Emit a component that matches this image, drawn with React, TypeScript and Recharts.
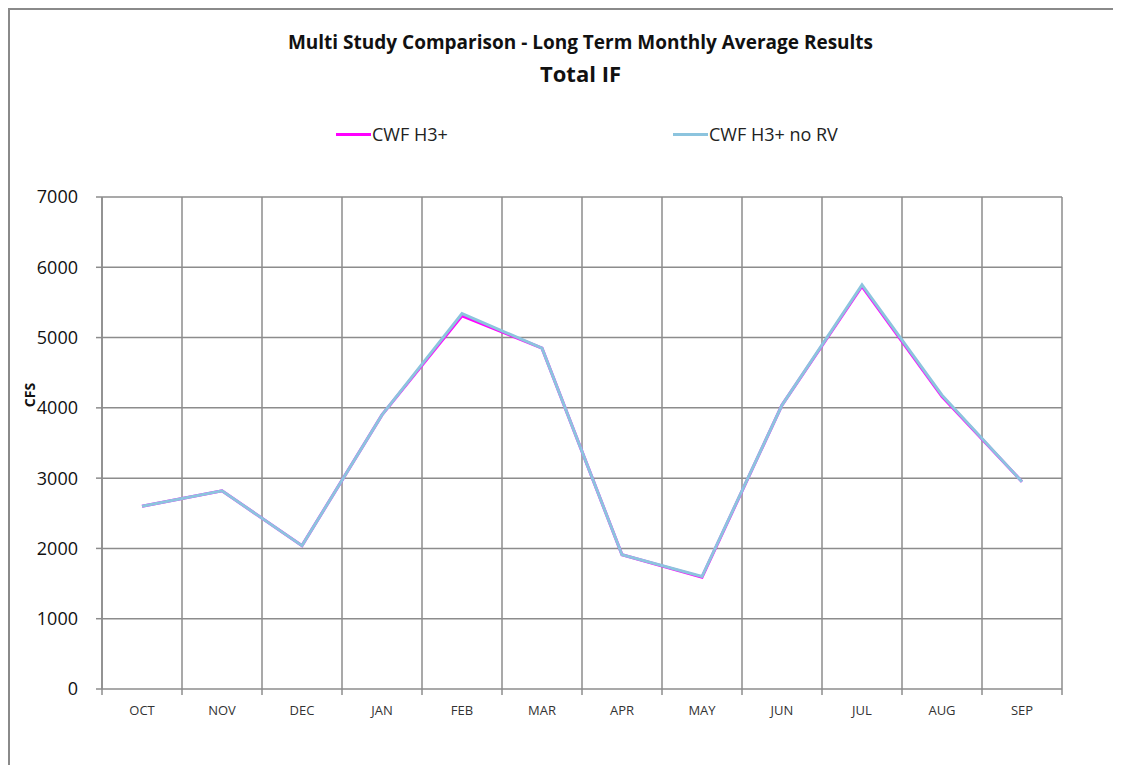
import * as React from 'react';
import { LineChart, Line, XAxis, YAxis, CartesianGrid, Legend } from 'recharts';

// chart values
const months = ['OCT', 'NOV', 'DEC', 'JAN', 'FEB', 'MAR', 'APR', 'MAY', 'JUN', 'JUL', 'AUG', 'SEP'];
const cwfH3 = [2600, 2820, 2040, 3900, 5310, 4850, 1910, 1590, 4040, 5730, 4160, 2950];
const cwfH3NoRv = [2600, 2820, 2040, 3900, 5340, 4850, 1910, 1600, 4040, 5750, 4180, 2950];
const yTicks = [0, 1000, 2000, 3000, 4000, 5000, 6000, 7000];

const seriesNames = ['CWF H3+', 'CWF H3+ no RV'];
const seriesColors = ['#ff00ff', '#8cc4de'];

const data = months.map((m, i) => ({ month: m, h3: cwfH3[i], noRv: cwfH3NoRv[i] }));

const FONT = '"Open Sans", sans-serif';
const GRID = '#8c8c8c';

function LegendBox() {
    const items = [
        { name: seriesNames[0], color: seriesColors[0], left: 0 },
        { name: seriesNames[1], color: seriesColors[1], left: 337 },
    ];
    return (
        <div style={{ position: 'relative', width: 560, height: 24, fontFamily: FONT, fontSize: 18, color: '#222' }}>
            {items.map(it => (
                <div key={it.name} style={{ position: 'absolute', left: it.left, top: 0, display: 'flex', alignItems: 'center', height: 24 }}>
                    <div style={{ width: 35, height: 3, background: it.color, marginRight: 1 }} />
                    <span>{it.name}</span>
                </div>
            ))}
        </div>
    );
}

const CfsLabel = (props: any) => {
    const vb = props.viewBox;
    const x = vb.x + 21;
    const y = vb.y + vb.height / 2 - 48;
    return (
        <text x={x} y={y} transform={`rotate(-90 ${x} ${y})`} textAnchor="middle" dominantBaseline="central"
            style={{ fontFamily: FONT, fontSize: 14, fontWeight: 700, fill: '#111' }}>CFS</text>
    );
};

// month label, with tick marks at the category boundaries (Excel style)
const MonthTick = (props: any) => {
    const { x, y, payload, index } = props;
    const half = payload.offset ?? 0;
    const top = y - 10; // axis line: tickSize 6 + tickMargin 4 above the label anchor
    return (
        <g>
            <line x1={x - half} x2={x - half} y1={top} y2={top + 6} stroke={GRID} strokeWidth={1.5} />
            {index === months.length - 1 &&
                <line x1={x + half} x2={x + half} y1={top} y2={top + 6} stroke={GRID} strokeWidth={1.5} />}
            <text x={x} y={y + 16} textAnchor="middle"
                style={{ fontFamily: FONT, fontSize: 13, fill: '#333' }}>{payload.value}</text>
        </g>
    );
};

// vertical grid lines on the category boundaries rather than the centres
const boundaryLines = ({ xAxis, offset }: any) => {
    const s = xAxis && xAxis.scale;
    const ticks: any[] = (xAxis && xAxis.ticks) || [];
    if (ticks.length === months.length && ticks[0].offset != null) {
        const half = ticks[0].offset;
        return [...ticks.map(t => t.coordinate - half), ticks[ticks.length - 1].coordinate + half];
    }
    if (s && typeof s.map === 'function' && typeof s.bandwidth === 'function') {
        const bw = s.bandwidth();
        return [...months.map(m => s.map(m)), s.map(months[months.length - 1]) + bw];
    }
    const step = offset.width / months.length;
    return [...months.map((_, i) => offset.left + i * step), offset.left + offset.width];
};

export default function App() {
    return (
        <div style={{ position: 'relative', width: 1113, height: 757 }}>
            <div style={{ position: 'absolute', left: 0, top: 0, width: 1113, height: 757, borderTop: '2px solid #8a8a8a', borderLeft: '2px solid #8a8a8a', boxSizing: 'border-box' }} />
            <div style={{ position: 'absolute', left: 0, width: 1145, top: 21, textAlign: 'center', fontFamily: FONT, fontWeight: 700, fontSize: 19, color: '#111' }}>
                Multi Study Comparison - Long Term Monthly Average Results
            </div>
            <div style={{ position: 'absolute', left: 0, width: 1145, top: 50, textAlign: 'center', fontFamily: FONT, fontWeight: 700, fontSize: 22, color: '#111' }}>
                Total IF
            </div>
            <LineChart
                width={1113}
                height={757}
                data={data}
                margin={{ top: 189, right: 59, left: 0, bottom: 38 }}
                style={{ position: 'absolute', left: 0, top: 0 }}
            >
                <CartesianGrid xAxisId="m" stroke={GRID} strokeWidth={1.5} verticalCoordinatesGenerator={boundaryLines} />
                <XAxis xAxisId="m" dataKey="month" scale="band" axisLine={false} tickLine={false} height={38} interval={0}
                    tickSize={6} tickMargin={4} tick={<MonthTick />} />
                <YAxis domain={[0, 7000]} ticks={yTicks} width={94} tickSize={6} tickMargin={18}
                    stroke={GRID} strokeWidth={1.5} interval={0}
                    tick={{ fontFamily: FONT, fontSize: 18, fill: '#111' }}
                    label={<CfsLabel />} />
                <Legend verticalAlign="middle" layout="horizontal" content={<LegendBox />}
                    wrapperStyle={{ position: 'absolute', left: 328, top: 114, width: 560 }} />
                <Line xAxisId="m" dataKey="h3" name={seriesNames[0]} stroke={seriesColors[0]} strokeWidth={3}
                    dot={false} isAnimationActive={false} />
                <Line xAxisId="m" dataKey="noRv" name={seriesNames[1]} stroke={seriesColors[1]} strokeWidth={3}
                    dot={false} isAnimationActive={false} />
            </LineChart>
        </div>
    );
}
